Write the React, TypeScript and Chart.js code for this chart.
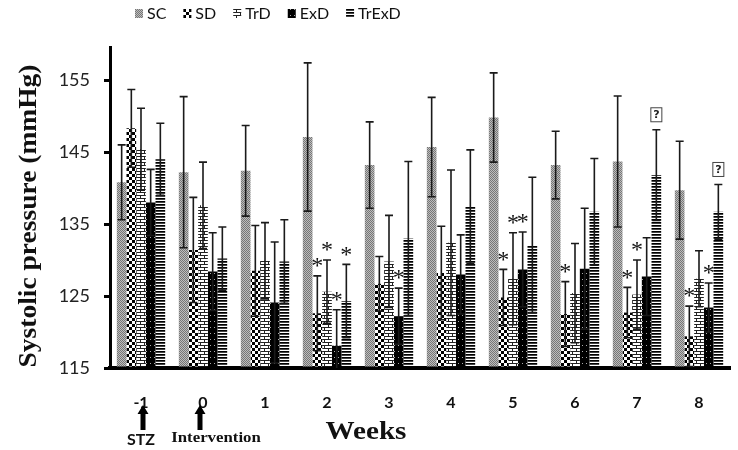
import React, { useEffect, useRef } from 'react';
import { Chart, registerables } from 'chart.js';
Chart.register(...registerables);

const weeks = ['-1', '0', '1', '2', '3', '4', '5', '6', '7', '8'];
const seriesNames = ['SC', 'SD', 'TrD', 'ExD', 'TrExD'];
const scMean = [140.8, 142.2, 142.4, 147.1, 143.2, 145.7, 149.8, 143.2, 143.7, 139.7];
const scErr = [5.2, 10.5, 6.3, 10.3, 6.0, 6.9, 6.2, 4.7, 9.1, 6.8];
const sdMean = [148.3, 131.4, 128.5, 122.6, 126.7, 128.2, 124.8, 122.5, 122.7, 119.4];
const sdErr = [5.4, 7.3, 6.3, 5.2, 3.8, 6.5, 3.9, 4.5, 3.5, 4.2];
const trdMean = [145.4, 137.6, 129.9, 125.6, 129.8, 132.4, 127.4, 125.4, 125.2, 127.4];
const trdErr = [5.7, 6.0, 5.3, 4.4, 6.4, 10.1, 6.4, 6.9, 4.8, 3.9];
const exdMean = [138.0, 128.4, 124.1, 118.1, 122.2, 128.0, 128.7, 128.8, 127.7, 123.4];
const exdErr = [4.6, 5.4, 8.4, 5.0, 3.9, 5.5, 5.2, 8.4, 5.4, 3.4];
const trexdMean = [144.0, 130.2, 129.8, 124.3, 133.0, 137.4, 132.1, 136.7, 141.8, 136.7];
const trexdErr = [5.0, 4.4, 5.8, 5.1, 10.7, 7.9, 9.4, 7.4, 6.3, 3.8];
const yTickValues = [115, 125, 135, 145, 155];
const yMin = 115;
const yMax = 159.6;
// [week index, series index]
const starMarks = [[3, 1], [3, 2], [3, 3], [3, 4], [4, 3], [6, 1], [6, 2], [6, 3], [7, 1], [8, 1], [8, 2], [9, 1], [9, 3]];
const boxMarks = [[8, 4], [9, 4]];
const yTitle = 'Systolic pressure (mmHg)';
const xTitle = 'Weeks';
const stzLabel = 'STZ';
const interventionLabel = 'Intervention';

const means = [scMean, sdMean, trdMean, exdMean, trexdMean];
const errs = [scErr, sdErr, trdErr, exdErr, trexdErr];

function makePattern(ctx: CanvasRenderingContext2D, w: number, h: number, draw: (g: CanvasRenderingContext2D) => void) {
  const c = document.createElement('canvas');
  c.width = w;
  c.height = h;
  const g = c.getContext('2d') as CanvasRenderingContext2D;
  draw(g);
  return ctx.createPattern(c, 'repeat') as CanvasPattern;
}

function buildPatterns(ctx: CanvasRenderingContext2D) {
  const sc = makePattern(ctx, 2, 2, (g) => {
    g.fillStyle = '#bdbdbd'; g.fillRect(0, 0, 2, 2);
    g.fillStyle = '#767676'; g.fillRect(0, 0, 1, 1); g.fillRect(1, 1, 1, 1);
  });
  const sd = makePattern(ctx, 6, 6, (g) => {
    g.fillStyle = '#fff'; g.fillRect(0, 0, 6, 6);
    g.fillStyle = '#000'; g.fillRect(0, 0, 3, 3); g.fillRect(3, 3, 3, 3);
  });
  const trd = makePattern(ctx, 8, 6, (g) => {
    g.fillStyle = '#fff'; g.fillRect(0, 0, 8, 6);
    g.fillStyle = '#222';
    g.fillRect(0, 0, 8, 1); g.fillRect(0, 3, 8, 1);
    g.fillRect(0, 0, 1, 3); g.fillRect(4, 3, 1, 3);
  });
  const exd = makePattern(ctx, 4, 6, (g) => {
    g.fillStyle = '#000'; g.fillRect(0, 0, 4, 6);
    g.fillStyle = '#aaa'; g.fillRect(2, 3, 1, 1);
  });
  const trexd = makePattern(ctx, 2, 3, (g) => {
    g.fillStyle = '#fff'; g.fillRect(0, 0, 2, 3);
    g.fillStyle = '#000'; g.fillRect(0, 0, 2, 1);
    g.fillStyle = '#444'; g.fillRect(0, 1, 2, 1);
  });
  return [sc, sd, trd, exd, trexd];
}

export default function App() {
  const ref = useRef<HTMLCanvasElement | null>(null);
  useEffect(() => {
    const canvas = ref.current;
    if (!canvas) return;
    const ctx0 = canvas.getContext('2d') as CanvasRenderingContext2D;
    const patterns = buildPatterns(ctx0);

    const overlay = {
      id: 'overlay',
      afterDatasetsDraw(chart: any) {
        const ctx = chart.ctx as CanvasRenderingContext2D;
        const y = chart.scales.y;
        const area = chart.chartArea;
        ctx.save();
        ctx.beginPath();
        ctx.rect(area.left, 0, area.right - area.left, area.bottom);
        ctx.clip();
        chart.data.datasets.forEach((_ds: any, di: number) => {
          const meta = chart.getDatasetMeta(di);
          meta.data.forEach((el: any, i: number) => {
            const m = means[di][i];
            const e = errs[di][i];
            const yt = y.getPixelForValue(m + e);
            const yb = y.getPixelForValue(m - e);
            ctx.strokeStyle = '#1a1a1a';
            ctx.lineWidth = 1.6;
            ctx.beginPath();
            ctx.moveTo(el.x, yt); ctx.lineTo(el.x, yb);
            ctx.moveTo(el.x - 4, yt); ctx.lineTo(el.x + 4, yt);
            ctx.moveTo(el.x - 4, yb); ctx.lineTo(el.x + 4, yb);
            ctx.stroke();
          });
        });
        ctx.restore();
        ctx.save();
        // stars
        ctx.fillStyle = '#111';
        ctx.font = '24px "Liberation Serif"';
        ctx.textAlign = 'center';
        ctx.textBaseline = 'middle';
        starMarks.forEach(([wi, si]) => {
          const el = chart.getDatasetMeta(si).data[wi];
          const yt = y.getPixelForValue(means[si][wi] + errs[si][wi]);
          ctx.fillText('*', el.x, yt - 9);
        });
        // boxed question marks
        boxMarks.forEach(([wi, si]) => {
          const el = chart.getDatasetMeta(si).data[wi];
          const yt = y.getPixelForValue(means[si][wi] + errs[si][wi]);
          const cy = yt - 15;
          ctx.strokeStyle = '#444';
          ctx.lineWidth = 1;
          ctx.fillStyle = '#fff';
          ctx.fillRect(el.x - 5.5, cy - 7, 11, 14);
          ctx.strokeRect(el.x - 5.5, cy - 7, 11, 14);
          ctx.fillStyle = '#222';
          ctx.font = 'bold 11px "DejaVu Sans"';
          ctx.fillText('?', el.x, cy + 0.5);
        });
        ctx.restore();
      },
      afterDraw(chart: any) {
        const ctx = chart.ctx as CanvasRenderingContext2D;
        const xs = chart.scales.x;
        ctx.save();
        // legend
        ctx.font = '16px Lato';
        ctx.textBaseline = 'middle';
        ctx.textAlign = 'left';
        let lx = 135;
        seriesNames.forEach((name, i) => {
          ctx.fillStyle = patterns[i];
          ctx.fillRect(lx, 9, 8, 9);
          ctx.fillStyle = '#111';
          ctx.fillText(name, lx + 12, 14);
          lx += 12 + ctx.measureText(name).width + 17;
        });
        // y title
        ctx.save();
        ctx.translate(30, 216);
        ctx.rotate(-Math.PI / 2);
        ctx.scale(1.1, 1);
        ctx.font = 'bold 25px "Liberation Serif"';
        ctx.textAlign = 'center';
        ctx.textBaseline = 'middle';
        ctx.fillStyle = '#111';
        ctx.fillText(yTitle, 0, 0);
        ctx.restore();
        // x title
        ctx.save();
        ctx.translate(366, 432);
        ctx.scale(1.12, 1);
        ctx.font = 'bold 26px "Liberation Serif"';
        ctx.textAlign = 'center';
        ctx.textBaseline = 'middle';
        ctx.fillStyle = '#111';
        ctx.fillText(xTitle, 0, 0);
        ctx.restore();
        // arrows
        const drawArrow = (x: number) => {
          ctx.fillStyle = '#000';
          ctx.beginPath();
          ctx.moveTo(x, 405);
          ctx.lineTo(x + 5.5, 414);
          ctx.lineTo(x + 2.5, 414);
          ctx.lineTo(x + 2.5, 430);
          ctx.lineTo(x - 2.5, 430);
          ctx.lineTo(x - 2.5, 414);
          ctx.lineTo(x - 5.5, 414);
          ctx.closePath();
          ctx.fill();
        };
        const x0 = xs.getPixelForValue(0);
        const x1 = xs.getPixelForValue(1);
        drawArrow(x0 + 2);
        drawArrow(x1 - 3);
        ctx.fillStyle = '#111';
        ctx.textAlign = 'center';
        ctx.textBaseline = 'middle';
        ctx.font = 'bold 16px Lato';
        ctx.fillText(stzLabel, x0, 440);
        ctx.save();
        ctx.translate(x1 + 13, 438);
        ctx.scale(1.12, 1);
        ctx.font = 'bold 15px "Liberation Serif"';
        ctx.fillText(interventionLabel, 0, 0);
        ctx.restore();
        ctx.restore();
      },
    };

    const chart = new Chart(canvas, {
      type: 'bar',
      data: {
        labels: weeks,
        datasets: seriesNames.map((name, i) => ({
          label: name,
          data: means[i],
          backgroundColor: patterns[i],
          borderWidth: 0,
          base: yMin,
          categoryPercentage: 0.78,
          barPercentage: 1.0,
        })),
      },
      options: {
        responsive: false,
        animation: false,
        events: [],
        layout: { padding: { top: 47, right: 8, left: 0, bottom: 0 } },
        plugins: { legend: { display: false }, tooltip: { enabled: false }, title: { display: false } },
        scales: {
          x: {
            afterFit: (s: any) => { s.height = 82; },
            grid: { display: false, drawTicks: false },
            border: { display: true, color: '#000', width: 4 },
            ticks: { color: '#111', font: { family: 'Lato', size: 16, weight: 'bold' }, padding: 25, maxRotation: 0 },
          },
          y: {
            min: yMin,
            max: yMax,
            afterFit: (s: any) => { s.width = 110; },
            afterBuildTicks: (s: any) => { s.ticks = yTickValues.map((v) => ({ value: v })); },
            grid: { display: true, drawOnChartArea: false, drawTicks: true, tickLength: 6, lineWidth: 3, color: '#000' },
            border: { display: true, color: '#000', width: 3 },
            ticks: { color: '#222', font: { family: 'Lato', size: 18 }, padding: 14 },
          },
        },
      },
      plugins: [overlay],
    } as any);
    return () => chart.destroy();
  }, []);
  return (
    <div style={{ position: 'absolute', left: 0, top: 0, width: 738, height: 450, background: '#fff' }}>
      <canvas ref={ref} width={738} height={450} />
    </div>
  );
}
